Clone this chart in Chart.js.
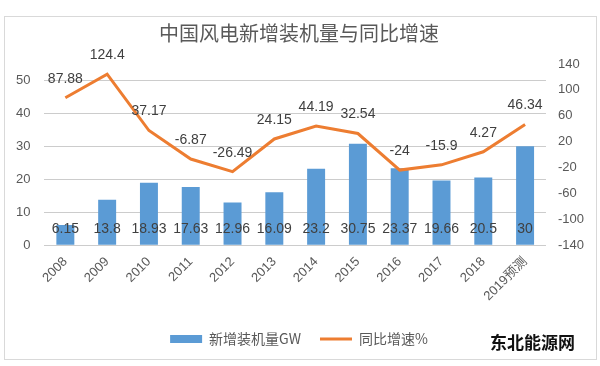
<!DOCTYPE html>
<html>
<head>
<meta charset="utf-8">
<script src="https://cdn.jsdelivr.net/npm/chart.js@4"></script>
<style>
    html, body { margin: 0; padding: 0; background: #fff; }
    #wrap { width: 600px; height: 366px; position: relative; }
</style>
</head>
<body>
<div id="wrap"><canvas id="windChart"></canvas></div>
<script>
// ===== data =====
const years = ['2008', '2009', '2010', '2011', '2012', '2013', '2014', '2015', '2016', '2017', '2018', '2019预测'];
const newCapacity = [6.15, 13.8, 18.93, 17.63, 12.96, 16.09, 23.2, 30.75, 23.37, 19.66, 20.5, 30];
const growthRate = [87.88, 124.4, 37.17, -6.87, -26.49, 24.15, 44.19, 32.54, -24, -15.9, 4.27, 46.34];

const FONT = '"Liberation Sans", "Noto Sans CJK SC", sans-serif';
const TEXT = '#595959';

// labels on bars (inside base) and on line points (above)
const valueLabels = {
    id: 'valueLabels',
    afterDatasetsDraw(chart) {
        const c = chart.ctx;
        c.save();
        c.font = '14px ' + FONT;
        c.fillStyle = '#404040';
        c.textAlign = 'center';
        c.textBaseline = 'middle';
        chart.getDatasetMeta(0).data.forEach((el, i) => {
            c.fillText(String(newCapacity[i]), el.x, el.base - 15);
        });
        chart.getDatasetMeta(1).data.forEach((el, i) => {
            c.fillText(String(growthRate[i]), el.x, el.y - 19);
        });
        c.restore();
    }
};

// chart frame + watermark text
const frame = {
    id: 'frame',
    afterDraw(chart) {
        const c = chart.ctx;
        c.save();
        c.strokeStyle = '#d9d9d9';
        c.lineWidth = 1;
        c.strokeRect(4.5, 16.5, 592, 343);
        c.font = 'bold 17px "Noto Sans CJK SC", sans-serif';
        c.fillStyle = '#111';
        c.textAlign = 'left';
        c.textBaseline = 'middle';
        c.fillText('东北能源网', 490, 343);
        c.restore();
    }
};

new Chart(document.getElementById('windChart'), {
    data: {
        labels: years,
        datasets: [
            {
                type: 'bar',
                label: '新增装机量GW',
                data: newCapacity,
                backgroundColor: '#5B9BD5',
                borderWidth: 0,
                barPercentage: 0.43,
                categoryPercentage: 1,
                pointStyle: 'rect',
                yAxisID: 'y',
                order: 1
            },
            {
                type: 'line',
                label: '同比增速%',
                data: growthRate,
                borderColor: '#ED7D31',
                backgroundColor: '#ED7D31',
                borderWidth: 3,
                tension: 0,
                pointRadius: 0,
                pointStyle: 'line',
                yAxisID: 'y1',
                order: 0
            }
        ]
    },
    options: {
        responsive: true,
        maintainAspectRatio: false,
        animation: false,
        layout: { padding: { top: 14, left: 2, right: 4, bottom: 10 } },
        plugins: {
            title: {
                display: true,
                text: '中国风电新增装机量与同比增速',
                color: TEXT,
                font: { family: '"Noto Sans CJK SC", sans-serif', size: 20, weight: 'normal' },
                padding: { top: 7, bottom: 19 }
            },
            legend: {
                position: 'bottom',
                labels: {
                    color: TEXT,
                    font: { family: '"Noto Sans CJK SC", sans-serif', size: 14 },
                    usePointStyle: true,
                    pointStyleWidth: 32,
                    boxHeight: 8,
                    padding: 19,
                    sort: (a, b) => a.datasetIndex - b.datasetIndex
                }
            },
            tooltip: { enabled: false }
        },
        scales: {
            x: {
                grid: { display: false, drawTicks: false },
                border: { display: false },
                ticks: {
                    color: TEXT,
                    font: { family: FONT, size: 13 },
                    minRotation: 45,
                    maxRotation: 45,
                    padding: 9
                }
            },
            y: {
                position: 'left',
                min: 0,
                max: 55,
                grid: { color: '#cccccc', lineWidth: 1, drawTicks: false },
                border: { display: false },
                afterBuildTicks: scale => {
                    scale.ticks = scale.ticks.filter(t => t.value <= 50);
                },
                ticks: {
                    stepSize: 10,
                    color: TEXT,
                    font: { family: FONT, size: 13 },
                    padding: 14
                }
            },
            y1: {
                position: 'right',
                min: -140,
                max: 140,
                grid: { display: false, drawTicks: false },
                border: { display: false },
                ticks: {
                    stepSize: 40,
                    color: TEXT,
                    font: { family: FONT, size: 13 },
                    padding: 12
                }
            }
        }
    },
    plugins: [valueLabels, frame]
});
</script>
</body>
</html>
